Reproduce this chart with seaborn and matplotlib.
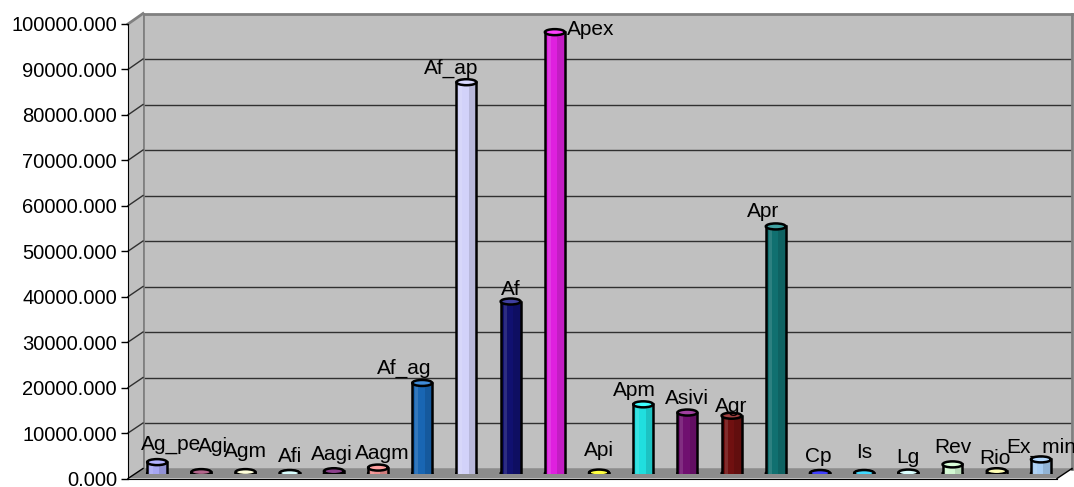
import numpy as np
import pandas as pd
import seaborn as sns
import matplotlib.pyplot as plt
import matplotlib.colors as mcolors
from matplotlib.patches import Ellipse, Polygon, Rectangle
from matplotlib.lines import Line2D
from matplotlib.ticker import FormatStrFormatter

# ==========================================
# data
# ==========================================
names = ['Ag_pe', 'Agi', 'Agm', 'Afi', 'Aagi', 'Aagm', 'Af_ag', 'Af_ap', 'Af', 'Apex', 'Api',
         'Apm', 'Asivi', 'Agr', 'Apr', 'Cp', 'Is', 'Lg', 'Rev', 'Rio', 'Ex_min']
values = [2500, 300, 300, 100, 500, 1300, 19900, 86000, 37800, 97000, 200,
          15200, 13400, 12700, 54300, 100, 100, 200, 2000, 500, 3100]
y_ticks = list(range(0, 100001, 10000))

# excel default series colours
bar_colors = ['#9999FF', '#993366', '#FFFFCC', '#CCFFFF', '#660066', '#FF8080', '#0066CC',
              '#CCCCFF', '#000080', '#FF00FF', '#FFFF00', '#00FFFF', '#800080', '#800000',
              '#008080', '#0000FF', '#00CCFF', '#CCFFFF', '#CCFFCC', '#FFFF99', '#99CCFF']

# label nudges in pixels (dx, dy above bar top)
label_nudge = {'Ag_pe': (14, 12), 'Agi': (12, 20), 'Agm': (0, 15), 'Afi': (0, 11),
               'Aagi': (-2, 11), 'Aagm': (4, 9), 'Af_ag': (-18, 9), 'Af_ap': (-15, 8),
               'Af': (0, 7), 'Apex': (36, -3), 'Api': (0, 17), 'Apm': (-9, 8),
               'Asivi': (0, 9), 'Agr': (0, 4), 'Apr': (-13, 9), 'Cp': (-2, 11),
               'Is': (0, 15), 'Lg': (0, 10), 'Rev': (0, 11), 'Rio': (-2, 7), 'Ex_min': (0, 7)}

df = pd.DataFrame({'name': names, 'value': values})

# ==========================================
# figure / fake 3d box
# ==========================================
plt.rcParams['font.family'] = ['Liberation Sans', 'DejaVu Sans']
W, H = 1074, 487
fig = plt.figure(figsize=(W / 100, H / 100), dpi=100)
fig.patch.set_facecolor('white')


def box(l, t, r, b):
    return [l / W, 1 - b / H, (r - l) / W, (b - t) / H]


ax_wall = fig.add_axes(box(143, 13.5, 1072, 468.5), zorder=0)
ax_bar = fig.add_axes(box(135, 18.5, 1063, 473.5), zorder=2)
ax_front = fig.add_axes(box(128, 24, 1057, 478.5), zorder=3)

for a in (ax_wall, ax_bar, ax_front):
    a.set_ylim(0, 100000)
ax_bar.set_xlim(-0.5, len(names) - 0.5)

# back wall
ax_wall.set_facecolor('#C0C0C0')
ax_wall.set_xticks([])
ax_wall.set_yticks([])
for v in y_ticks[1:-1]:
    ax_wall.axhline(v, color='#303030', lw=1)
for s in ['left', 'top', 'right']:
    ax_wall.spines[s].set_color('#808080')
    ax_wall.spines[s].set_linewidth(2)
ax_wall.spines['bottom'].set_color('#404040')
ax_wall.spines['bottom'].set_linewidth(1)

# front axis (ticks + labels)
ax_front.set_facecolor('none')
ax_front.set_xticks([])
ax_front.set_yticks(y_ticks)
ax_front.yaxis.set_major_formatter(FormatStrFormatter('%.3f'))
ax_front.tick_params(axis='y', direction='out', length=5, width=1, pad=3,
                     labelsize=14.5, labelcolor='black')
ax_front.spines['top'].set_visible(False)
ax_front.spines['right'].set_visible(False)
ax_front.spines['left'].set_color('black')
ax_front.spines['bottom'].set_color('black')


def to_fig(ax, pt, axes_coords=False):
    t = ax.transAxes if axes_coords else ax.transData
    return fig.transFigure.inverted().transform(t.transform(pt))


# floor and side wall
floor = [to_fig(ax_front, (0, 0), True), to_fig(ax_front, (1, 0), True),
         to_fig(ax_wall, (1, 0), True), to_fig(ax_wall, (0, 0), True)]
fig.add_artist(Polygon(floor, closed=True, transform=fig.transFigure,
                       fc='#8C8C8C', ec='none', zorder=1))
side = [to_fig(ax_front, (0, 0), True), to_fig(ax_wall, (0, 0), True),
        to_fig(ax_wall, (0, 1), True), to_fig(ax_front, (0, 1), True)]
fig.add_artist(Polygon(side, closed=True, transform=fig.transFigure,
                       fc='#C0C0C0', ec='none', zorder=1))

for v in y_ticks[1:-1]:
    p1, p2 = to_fig(ax_front, (0, v)), to_fig(ax_wall, (0, v))
    fig.add_artist(Line2D([p1[0], p2[0]], [p1[1], p2[1]], transform=fig.transFigure,
                          color='#303030', lw=1, zorder=1.5))
p1, p2 = to_fig(ax_front, (0, 1), True), to_fig(ax_wall, (0, 1), True)
fig.add_artist(Line2D([p1[0], p2[0]], [p1[1], p2[1]], transform=fig.transFigure,
                      color='#808080', lw=2, zorder=1.5))
for ax_pt in [(0, 0), (1, 0)]:
    p1, p2 = to_fig(ax_front, ax_pt, True), to_fig(ax_wall, ax_pt, True)
    fig.add_artist(Line2D([p1[0], p2[0]], [p1[1], p2[1]], transform=fig.transFigure,
                          color='black', lw=1, zorder=1.5))

# ==========================================
# cylinders
# ==========================================
sns.barplot(data=df, x='name', y='value', hue='name', palette=bar_colors, order=names,
            hue_order=names, dodge=False, width=0.45, linewidth=0, legend=False,
            ax=ax_bar)
ax_bar.set_xlim(-0.5, len(names) - 0.5)
ax_bar.set_ylim(0, 100000)
ax_bar.set_facecolor('none')
ax_bar.axis('off')

eh = 6 / 455 * 100000  # ellipse height ~6px
bars = sorted(ax_bar.patches, key=lambda p: p.get_x())
for p, name, v, c in zip(bars, names, values, bar_colors):
    x, w, h = p.get_x(), p.get_width(), p.get_height()
    cx = x + w / 2
    p.set_zorder(3)
    ax_bar.add_patch(Ellipse((cx, 0), w, eh, fc=c, ec='black', lw=1.8, zorder=2))
    ax_bar.add_patch(Rectangle((x + w * 0.62, 0), w * 0.38, h, fc='black', alpha=0.12,
                               lw=0, zorder=3.5))
    ax_bar.add_patch(Rectangle((x + w * 0.15, 0), w * 0.15, h, fc='white', alpha=0.12,
                               lw=0, zorder=3.5))
    ax_bar.plot([x, x], [0, h], color='black', lw=1.8, zorder=4)
    ax_bar.plot([x + w, x + w], [0, h], color='black', lw=1.8, zorder=4)
    top = mcolors.to_rgb(c)
    top = tuple(0.75 * t + 0.25 for t in top)
    ax_bar.add_patch(Ellipse((cx, h), w, eh, fc=top, ec='black', lw=1.8, zorder=5))
    dx, dy = label_nudge[name]
    ax_bar.annotate(name, xy=(cx, h), xytext=(dx, dy), textcoords='offset pixels',
                    ha='center', va='baseline', fontsize=15, color='black', zorder=6,
                    annotation_clip=False)

plt.savefig('out.png', dpi=100, facecolor=fig.get_facecolor())
